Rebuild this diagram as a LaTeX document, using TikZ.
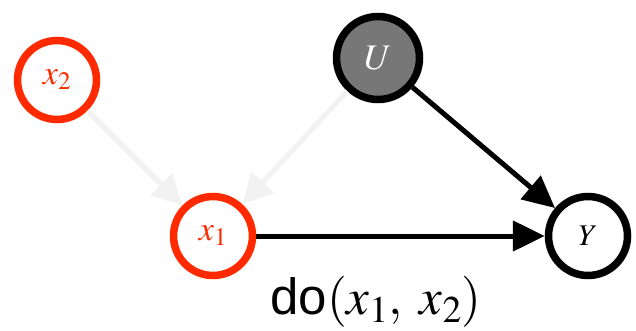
\documentclass[tikz,border=0pt]{standalone}
\usepackage{mathptmx}
\usepackage{fontspec}
\setsansfont{Liberation Sans}
\usetikzlibrary{arrows.meta}
\definecolor{myred}{HTML}{FF2A00}
\definecolor{ughost}{HTML}{F2F2F2}
\definecolor{ugray}{HTML}{777777}
\begin{document}
\begin{tikzpicture}[x=1pt,y=1pt,
  var/.style={circle,draw,line width=7.5pt,minimum size=79pt,inner sep=0pt},
  redvar/.style={var,draw=myred,text=myred,fill=white,font=\fontsize{34}{36}\selectfont},
  ghost/.style={draw=ughost,line width=5pt,-{Triangle[length=30pt,width=30pt]}},
  cause/.style={draw=black,line width=5pt,-{Triangle[length=32pt,width=30pt]}}]
\useasboundingbox (0,0) rectangle (636,330);
\node[redvar] (x2) at (57,250) {$x_2$};
\node[var,fill=ugray,text=white,minimum size=83pt,font=\fontsize{36}{38}\selectfont] (U) at (378,272) {$U$};
\node[redvar] (x1) at (213,94) {$x_1$};
\node[var,font=\fontsize{30}{32}\selectfont] (Y) at (588,94) {$Y$};
\draw[ghost] (x2) -- (x1);
\draw[ghost] (U) -- (x1);
\draw[cause] (U) -- (Y);
\draw[cause] (x1) -- (Y);
\node[font=\fontsize{51}{53}\selectfont] (lbl) at (376,28) {\sffamily do$(x_1,\;x_2)$};
\end{tikzpicture}
\end{document}
